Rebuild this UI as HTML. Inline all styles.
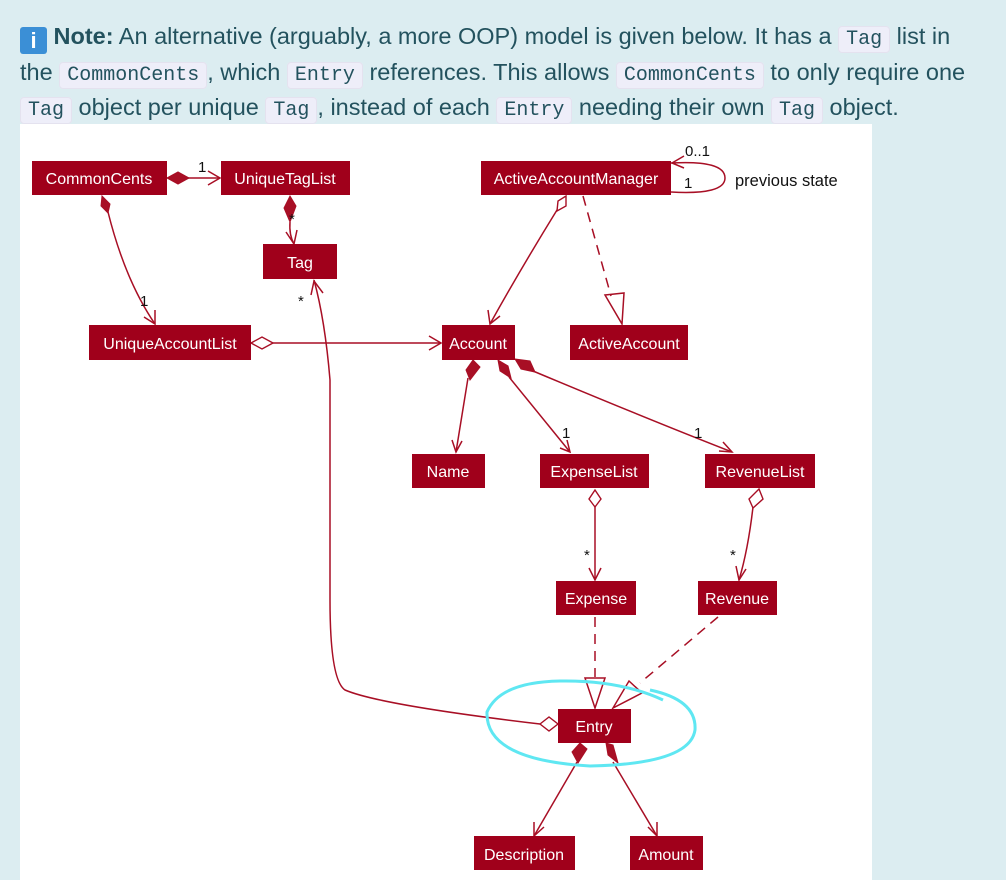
<!DOCTYPE html>
<html><head><meta charset="utf-8"><style>
html,body{margin:0;padding:0;}
body{width:1006px;height:880px;background:#dcedf1;position:relative;overflow:hidden;font-family:"Liberation Sans",sans-serif;}
.txt{position:absolute;left:20px;top:19px;width:986px;font-size:23.5px;line-height:35.5px;color:#23525e;white-space:nowrap;}
code{font-family:"Liberation Mono",monospace;font-size:20px;line-height:1;background:#eeeef9;border:1px solid #e4e2ef;border-radius:4px;padding:1px 7px;}
.ic{display:inline-block;width:27px;height:27px;background:#3b8fd6;border-radius:3px;color:#fff;font-weight:bold;text-align:center;line-height:27px;vertical-align:-4px;font-size:22px;}
svg{position:absolute;left:0;top:0;}
</style></head><body>
<div class="txt"><span class="ic">i</span> <b>Note:</b> An alternative (arguably, a more OOP) model is given below. It has a <code>Tag</code> list in<br>the <code>CommonCents</code>, which <code>Entry</code> references. This allows <code>CommonCents</code> to only require one<br><code>Tag</code> object per unique <code>Tag</code>, instead of each <code>Entry</code> needing their own <code>Tag</code> object.</div>
<svg width="1006" height="880" viewBox="0 0 1006 880">
<rect x="20" y="124" width="852" height="756" fill="#fff"/>
<g fill="none" stroke="#a80f25" stroke-width="1.5">
<line x1="188" y1="178" x2="220" y2="178"/><polyline points="208,171 220,178 208,185"/>
<path d="M290 222 Q289 235 294 244"/><polyline points="286,232 294,244 297,230"/>
<path d="M108 212 Q125 280 155 324"/><polyline points="144,317 155,324 155,310"/>
<line x1="272" y1="343" x2="441" y2="343"/><polyline points="429,336 441,343 429,350"/>
<path d="M557 210 Q520 270 490 324"/><polyline points="488,310 490,324 500,316"/>
<line x1="583" y1="196" x2="611" y2="296" stroke-dasharray="10,7"/>
<polygon points="605,295 624,293 622,324"/>
<path d="M671 163 Q725 160 725 178 Q725 195 671 192"/><polyline points="684,156 672,163 684,168"/>
<path d="M468 378 L456 452"/><polyline points="452,440 456,452 462,441"/>
<path d="M509 377 L570 452"/><polyline points="560,448 570,452 567,440"/>
<path d="M533 371 Q650 420 732 452"/><polyline points="719,451 732,452 723,442"/>
<line x1="595" y1="507" x2="595" y2="580"/><polyline points="589,568 595,580 601,568"/>
<path d="M753 507 Q748 550 739 580"/><polyline points="736,566 739,580 746,569"/>
<line x1="595" y1="617" x2="595" y2="677" stroke-dasharray="10,7"/>
<polygon points="585,678 605,678 595,708"/>
<line x1="718" y1="617" x2="640" y2="683" stroke-dasharray="10,7"/>
<polygon points="629,681 642,693 613,708"/>
<path d="M540 724 Q380 705 345 690 Q330 680 330 600 L330 380 Q325 320 314 280"/><polyline points="311,295 314,281 323,293"/>
<path d="M577 762 L534 836"/><polyline points="534,822 534,836 544,827"/>
<path d="M613 762 L657 836"/><polyline points="648,827 657,836 657,822"/>
</g>
<g fill="#a80f25" stroke="#a80f25">
<polygon points="167,178 178,172 189,178 178,184"/>
<polygon points="290,196 296,206 290,222 284,208"/>
<polygon points="102,196 110,204 108,213 101,206"/>
<polygon points="473,360 480,367 470,380 466,370"/>
<polygon points="498,360 508,366 511,378 500,371"/>
<polygon points="515,359 530,361 535,372 521,369"/>
<polygon points="580,743 587,749 578,763 572,752"/>
<polygon points="606,743 613,745 618,763 608,755"/>
</g>
<g fill="#fff" stroke="#a80f25" stroke-width="1.4">
<polygon points="251,343 262,337 273,343 262,349"/>
<polygon points="566,196 566,206 557,211 558,201"/>
<polygon points="595,490 601,499 595,507 589,499"/>
<polygon points="759,489 763,499 753,508 749,499"/>
<polygon points="540,724 549,717 558,724 549,731"/>
</g>
<g fill="#a0001b">
<rect x="32" y="161" width="135" height="34"/>
<rect x="221" y="161" width="129" height="34"/>
<rect x="263" y="244" width="74" height="35"/>
<rect x="481" y="161" width="190" height="34"/>
<rect x="89" y="325" width="162" height="35"/>
<rect x="442" y="325" width="73" height="35"/>
<rect x="570" y="325" width="118" height="35"/>
<rect x="412" y="454" width="73" height="34"/>
<rect x="540" y="454" width="109" height="34"/>
<rect x="705" y="454" width="110" height="34"/>
<rect x="556" y="581" width="80" height="34"/>
<rect x="698" y="581" width="79" height="34"/>
<rect x="558" y="709" width="73" height="34"/>
<rect x="474" y="836" width="101" height="34"/>
<rect x="630" y="836" width="73" height="34"/>
</g>
<g fill="#fff" font-family="Liberation Sans, sans-serif" font-size="16" text-anchor="middle">
<text x="99" y="184">CommonCents</text>
<text x="285" y="184">UniqueTagList</text>
<text x="300" y="268">Tag</text>
<text x="576" y="184">ActiveAccountManager</text>
<text x="170" y="349">UniqueAccountList</text>
<text x="478" y="349">Account</text>
<text x="629" y="349">ActiveAccount</text>
<text x="448" y="477">Name</text>
<text x="594" y="477">ExpenseList</text>
<text x="760" y="477">RevenueList</text>
<text x="596" y="604">Expense</text>
<text x="737" y="604">Revenue</text>
<text x="594" y="732">Entry</text>
<text x="524" y="860">Description</text>
<text x="666" y="860">Amount</text>
</g>
<g fill="#111" font-family="Liberation Sans, sans-serif" font-size="15">
<text x="198" y="172">1</text>
<text x="289" y="224">*</text>
<text x="140" y="306">1</text>
<text x="298" y="306">*</text>
<text x="685" y="156">0..1</text>
<text x="684" y="188">1</text>
<text x="735" y="186" font-size="16.5">previous state</text>
<text x="562" y="438">1</text>
<text x="694" y="438">1</text>
<text x="584" y="560">*</text>
<text x="730" y="560">*</text>
</g>
<path d="M663 700 Q620 680 560 681 Q500 682 487 712 Q485 760 590 766 Q690 764 695 730 Q697 700 650 690" fill="none" stroke="#5fe7f2" stroke-width="3"/>
</svg>
</body></html>
